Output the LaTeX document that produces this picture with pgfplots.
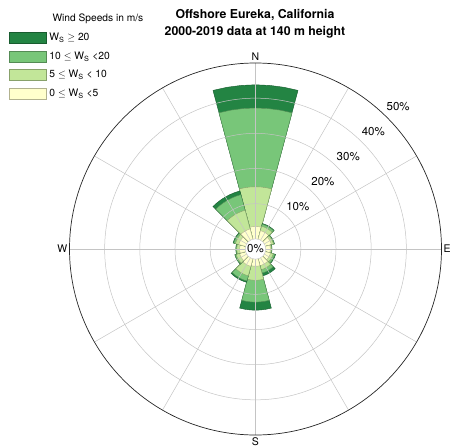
\documentclass[border=0pt]{standalone}
\usepackage{fontspec}
\setmainfont{TeX Gyre Heros}
\usepackage{pgfplots}
\usepackage{pgfplotstable}
\pgfplotsset{compat=1.18}
\usepgfplotslibrary{polar}

\definecolor{c1}{HTML}{FFFFCC}
\definecolor{c2}{HTML}{C2E699}
\definecolor{c3}{HTML}{78C679}
\definecolor{c4}{HTML}{238443}
\definecolor{gridc}{HTML}{C4C4C4}

% frequency (%) of each speed class per 30-degree direction sector (compass degrees)
\pgfplotstableread{
dir  a    b     c     d
0    3.5  11.3  22.4  6.6
30   2.5  1.3   0.6   0.2
60   1.8  0.6   0.2   0.1
90   1.3  0.3   0.1   0.1
120  1.5  0.8   0.5   0.2
150  2.0  1.2   1.0   0.8
180  2.0  4.0   6.2   2.3
210  2.2  2.8   1.5   0.4
240  1.8  1.0   0.3   0.1
270  1.6  0.8   0.2   0.1
300  2.0  1.0   0.5   0.2
330  3.0  5.5   4.6   1.1
}\windtable

\def\off{2.9}

\newcommand{\sect}[3]{%
  \pgfmathsetmacro\aA{#1-15}%
  \pgfmathsetmacro\aB{#1-10}%
  \pgfmathsetmacro\aC{#1-5}%
  \pgfmathsetmacro\aE{#1+5}%
  \pgfmathsetmacro\aF{#1+10}%
  \pgfmathsetmacro\aG{#1+15}%
  \addplot[forget plot,fill=#3,draw=#3!70!black,line width=0.4pt]
    coordinates {(0,0) (\aA,#2) (\aB,#2) (\aC,#2) (#1,#2) (\aE,#2) (\aF,#2) (\aG,#2) (0,0)};
}

\begin{document}
\begin{tikzpicture}
\path[use as bounding box] (0pt,0pt) rectangle (454pt,447pt);
\begin{polaraxis}[
  scale only axis, width=372pt, height=372pt,
  at={(255.5pt,198pt)}, anchor=center,
  ymin=0, ymax=52.9,
  xtick={0,90,180,270}, xticklabels={E,N,W,S},
  minor xtick={30,60,120,150,210,240,300,330},
  ytick={12.9,22.9,32.9,42.9}, yticklabels={},
  grid=both,
  major grid style={gridc, line width=0.5pt},
  minor grid style={gridc, line width=0.5pt},
  axis line style={black!85, line width=0.7pt},
  y axis line style={draw=none},
  major tick length=0pt, minor tick length=0pt,
  axis on top, clip=false,
  xticklabel style={font=\fontsize{10.5}{12}\selectfont, inner sep=2pt},
  legend image code/.code={\draw[#1] (0pt,-5.5pt) rectangle (37pt,5.5pt);},
  legend style={at={(-0.163,1.084)}, anchor=north west, draw=none, fill=none,
    font=\fontsize{10.3}{12}\selectfont, row sep=6.5pt, inner sep=0pt,
    nodes={inner sep=1.5pt},
    /tikz/every odd column/.append style={column sep=1.5pt}},
  legend cell align=left,
]
\pgfplotsforeachungrouped \i in {0,...,11}{%
  \pgfplotstablegetelem{\i}{dir}\of\windtable \pgfmathsetmacro\ang{90-\pgfplotsretval}%
  \pgfplotstablegetelem{\i}{a}\of\windtable \let\va\pgfplotsretval
  \pgfplotstablegetelem{\i}{b}\of\windtable \let\vb\pgfplotsretval
  \pgfplotstablegetelem{\i}{c}\of\windtable \let\vc\pgfplotsretval
  \pgfplotstablegetelem{\i}{d}\of\windtable \let\vd\pgfplotsretval
  \pgfmathsetmacro\rA{\off+\va}%
  \pgfmathsetmacro\rB{\rA+\vb}%
  \pgfmathsetmacro\rC{\rB+\vc}%
  \pgfmathsetmacro\rD{\rC+\vd}%
  \sect{\ang}{\rD}{c4}%
  \sect{\ang}{\rC}{c3}%
  \sect{\ang}{\rB}{c2}%
  \sect{\ang}{\rA}{c1}%
}
\addlegendimage{fill=c4,draw=c4!70!black}
\addlegendentry{W\textsubscript{S} $\geq$ 20}
\addlegendimage{fill=c3,draw=c3!70!black}
\addlegendentry{10 $\leq$ W\textsubscript{S} <20}
\addlegendimage{fill=c2,draw=c2!70!black}
\addlegendentry{5 $\leq$ W\textsubscript{S} < 10}
\addlegendimage{fill=c1,draw=c1!70!black}
\addlegendentry{0 $\leq$ W\textsubscript{S} <5}
\coordinate (O) at (axis cs:0,0);
\node[font=\fontsize{11.5}{13}\selectfont] at (axis cs:45,17.0) {10\%};
\node[font=\fontsize{11.5}{13}\selectfont] at (axis cs:45,27.1) {20\%};
\node[font=\fontsize{11.5}{13}\selectfont] at (axis cs:45,37.3) {30\%};
\node[font=\fontsize{11.5}{13}\selectfont] at (axis cs:45,47.4) {40\%};
\node[font=\fontsize{11.5}{13}\selectfont] at (axis cs:45,57.4) {50\%};
\end{polaraxis}
\filldraw[fill=white, draw=gridc, line width=0.4pt] (O) circle (10.2pt);
\node[font=\fontsize{11.5}{13}\selectfont] at (O) {0\%};
\node[anchor=west, font=\fontsize{10.2}{12}\selectfont] at (49pt,428pt) {Wind Speeds in m/s};
\node[align=center, font=\fontsize{12.3}{16.5}\selectfont\bfseries] at (255pt,423pt)
  {Offshore Eureka, California\\2000-2019 data at 140 m height};
\end{tikzpicture}
\end{document}
